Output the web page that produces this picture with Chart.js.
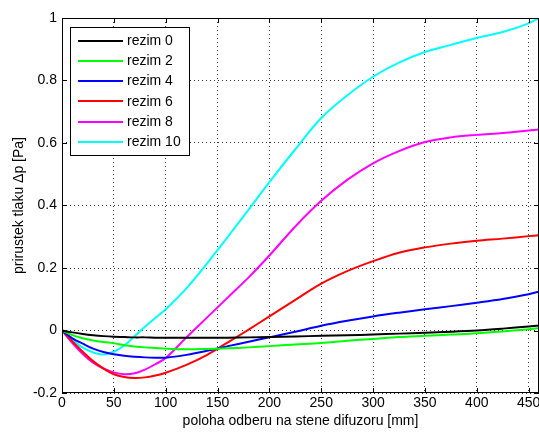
<!DOCTYPE html>
<html>
<head>
<meta charset="utf-8">
<script src="https://cdn.jsdelivr.net/npm/chart.js@4/dist/chart.umd.min.js"></script>
<style>
  html, body { margin: 0; padding: 0; background: #fff; }
  #wrap { width: 539px; height: 432px; position: relative; }
</style>
</head>
<body>
<div id="wrap"><canvas id="c" width="539" height="432"></canvas></div>
<script>
// ---- data ----
const positions = [0,10,20,30,40,50,60,70,80,90,100,120,140,160,180,200,225,250,275,300,325,350,375,400,425,450,460];
const rezim0  = [0,-0.006,-0.011,-0.015,-0.018,-0.020,-0.021,-0.022,-0.022,-0.023,-0.023,-0.023,-0.023,-0.023,-0.022,-0.021,-0.019,-0.017,-0.015,-0.013,-0.010,-0.007,-0.004,0.000,0.006,0.013,0.016];
const rezim2  = [0,-0.015,-0.025,-0.032,-0.037,-0.041,-0.047,-0.051,-0.054,-0.056,-0.058,-0.060,-0.059,-0.057,-0.054,-0.050,-0.045,-0.040,-0.033,-0.027,-0.021,-0.017,-0.013,-0.009,-0.003,0.004,0.008];
const rezim4  = [0,-0.025,-0.042,-0.058,-0.069,-0.076,-0.081,-0.084,-0.086,-0.087,-0.087,-0.078,-0.065,-0.050,-0.036,-0.022,-0.004,0.015,0.031,0.045,0.057,0.068,0.078,0.089,0.101,0.116,0.125];
const rezim6  = [0,-0.035,-0.068,-0.098,-0.122,-0.140,-0.149,-0.152,-0.150,-0.144,-0.135,-0.110,-0.078,-0.038,0.003,0.045,0.098,0.150,0.190,0.222,0.249,0.266,0.278,0.287,0.294,0.302,0.305];
const rezim8  = [0,-0.040,-0.075,-0.103,-0.121,-0.134,-0.140,-0.137,-0.125,-0.108,-0.088,-0.022,0.042,0.106,0.170,0.240,0.333,0.415,0.482,0.535,0.574,0.603,0.618,0.626,0.632,0.640,0.643];
const rezim10 = [0,-0.030,-0.055,-0.070,-0.077,-0.068,-0.048,-0.018,0.012,0.040,0.068,0.135,0.215,0.300,0.387,0.475,0.580,0.680,0.752,0.812,0.857,0.891,0.914,0.936,0.955,0.983,1.000];
const seriesNames = ['rezim 0','rezim 2','rezim 4','rezim 6','rezim 8','rezim 10'];
const seriesColors = ['#000000','#00ff00','#0000ff','#ff0000','#ff00ff','#00ffff'];
const xTicks = [0,50,100,150,200,250,300,350,400,450];
const yTicks = [-0.2,0,0.2,0.4,0.6,0.8,1];
const xTitle = 'poloha odberu na stene difuzoru [mm]';
const yTitle = 'prirustek tlaku \u0394p [Pa]';

const allSeries = [rezim0, rezim2, rezim4, rezim6, rezim8, rezim10];
const FONT = '"Liberation Sans", Arial, sans-serif';
const FS = 14;

const datasets = allSeries.map((vals, i) => ({
  label: seriesNames[i],
  data: positions.map((x, j) => ({x: x, y: vals[j]})),
  borderColor: seriesColors[i],
  backgroundColor: seriesColors[i],
  borderWidth: 2,
  pointRadius: 0,
  fill: false,
  tension: 0.35
}));

// box, inward ticks and legend in MATLAB style
const matlabPlugin = {
  id: 'matlab',
  afterDatasetsDraw(chart) {
    const ctx = chart.ctx;
    const a = chart.chartArea;
    const xs = chart.scales.x, ys = chart.scales.y;
    ctx.save();
    ctx.strokeStyle = '#000';
    ctx.lineWidth = 1;
    ctx.beginPath();
    ctx.moveTo(Math.round(a.left) + 0.5, a.top);
    ctx.lineTo(Math.round(a.left) + 0.5, a.bottom);
    ctx.moveTo(a.left, Math.round(a.top) + 0.5);
    ctx.lineTo(a.right, Math.round(a.top) + 0.5);
    ctx.moveTo(a.left, Math.round(a.bottom) - 0.5);
    ctx.lineTo(a.right, Math.round(a.bottom) - 0.5);
    ctx.moveTo(Math.round(a.right) - 0.5, a.top);
    ctx.lineTo(Math.round(a.right) - 0.5, a.bottom);
    // inward ticks
    const tl = 5;
    xTicks.forEach(v => {
      const px = Math.round(xs.getPixelForValue(v)) + 0.5;
      ctx.moveTo(px, a.bottom); ctx.lineTo(px, a.bottom - tl);
      ctx.moveTo(px, a.top); ctx.lineTo(px, a.top + tl);
    });
    yTicks.forEach(v => {
      const py = Math.round(ys.getPixelForValue(v)) + 0.5;
      ctx.moveTo(a.left, py); ctx.lineTo(a.left + tl, py);
      ctx.moveTo(a.right, py); ctx.lineTo(a.right - tl, py);
    });
    ctx.stroke();

    // legend box
    const bx = 70.5, by = 27.5, bw = 119, bh = 128;
    ctx.fillStyle = '#fff';
    ctx.fillRect(bx, by, bw, bh);
    ctx.strokeRect(bx, by, bw, bh);
    ctx.font = FS + 'px ' + FONT;
    ctx.textBaseline = 'middle';
    ctx.textAlign = 'left';
    chart.data.datasets.forEach((ds, i) => {
      const y = 40.7 + i * 20.2;
      ctx.strokeStyle = ds.borderColor;
      ctx.lineWidth = 2;
      ctx.beginPath();
      ctx.moveTo(78, Math.round(y));
      ctx.lineTo(123, Math.round(y));
      ctx.stroke();
      ctx.fillStyle = '#000';
      ctx.fillText(ds.label, 127, y + 0.5);
    });
    ctx.restore();
  }
};

new Chart(document.getElementById('c'), {
  type: 'line',
  data: { datasets: datasets },
  options: {
    responsive: false,
    animation: false,
    devicePixelRatio: 1,
    layout: { padding: { top: 18, right: 0, left: 0, bottom: 0 } },
    plugins: { legend: { display: false }, tooltip: { enabled: false } },
    scales: {
      x: {
        type: 'linear',
        min: 0, max: 460,
        afterFit(s) { s.height = 39; s.paddingRight = 0; s.paddingLeft = 0; },
        afterBuildTicks(s) { s.ticks = xTicks.map(v => ({value: v})); },
        ticks: { font: { family: FONT, size: FS }, color: '#000', padding: 2, maxRotation: 0, autoSkip: false },
        grid: { color: '#333', drawTicks: false, lineWidth: 1 },
        border: { display: false, dash: [1, 3] },
        title: { display: true, text: xTitle, color: '#000', font: { family: FONT, size: FS }, padding: { top: 0, bottom: 2 } }
      },
      y: {
        type: 'linear',
        min: -0.2, max: 1,
        afterFit(s) { s.width = 62; },
        afterBuildTicks(s) { s.ticks = yTicks.map(v => ({value: v})); },
        ticks: {
          font: { family: FONT, size: FS }, color: '#000', padding: 5,
          callback: v => String(Number(v.toFixed(1)))
        },
        grid: { color: '#333', drawTicks: false, lineWidth: 1 },
        border: { display: false, dash: [1, 3] },
        title: { display: true, text: yTitle, color: '#000', font: { family: FONT, size: FS }, padding: { top: 11, bottom: 0 } }
      }
    }
  },
  plugins: [matlabPlugin]
});
</script>
</body>
</html>
